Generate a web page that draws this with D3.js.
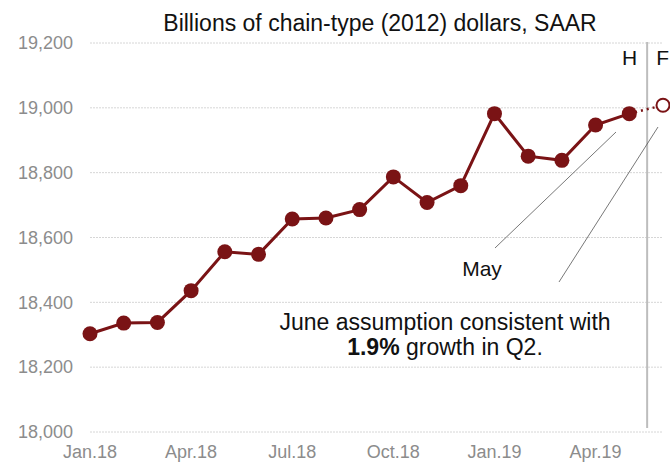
<!DOCTYPE html>
<html><head><meta charset="utf-8">
<script src="https://cdn.jsdelivr.net/npm/d3@7"></script>
<style>body{margin:0;background:#fff;}svg{display:block;font-family:Arial,"Liberation Sans",Helvetica,sans-serif;}</style>
</head><body>
<script>
const months = ["Jan.18","Feb.18","Mar.18","Apr.18","May.18","Jun.18","Jul.18","Aug.18","Sep.18","Oct.18","Nov.18","Dec.18","Jan.19","Feb.19","Mar.19","Apr.19","May.19","Jun.19"];
const history = [18303,18336,18338,18436,18556,18548,18657,18660,18686,18787,18708,18760,18982,18851,18838,18947,18982];
const forecast = [19008];
const tickLabels = ["Jan.18","Apr.18","Jul.18","Oct.18","Jan.19","Apr.19"];
const yTicks = [18000,18200,18400,18600,18800,19000,19200];
const title = "Billions of chain-type (2012) dollars, SAAR";

const W=670,H=464;
const svg=d3.select("body").append("svg").attr("width",W).attr("height",H);
const x=d3.scalePoint().domain(months).range([90,663]);
const y=d3.scaleLinear().domain([18000,19200]).range([432,43]);
const red="#7a1315";

// grid
svg.append("g").selectAll("line").data(yTicks).join("line")
 .attr("x1",90).attr("x2",662).attr("y1",d=>y(d)).attr("y2",d=>y(d))
 .attr("stroke","#d6d6d6").attr("stroke-width",1).attr("stroke-dasharray","2,1");
// y labels
const fmt=d3.format(",");
svg.append("g").selectAll("text").data(yTicks).join("text")
 .attr("x",73).attr("y",d=>y(d)).attr("dy","0.35em").attr("text-anchor","end")
 .attr("font-size",18).attr("fill","#8c8c8c").text(d=>fmt(d));
// x labels
svg.append("g").selectAll("text").data(tickLabels).join("text")
 .attr("x",d=>x(d)).attr("y",458).attr("text-anchor","middle")
 .attr("font-size",18).attr("fill","#8c8c8c").text(d=>d);
// title
svg.append("text").attr("x",380).attr("y",31).attr("text-anchor","middle")
 .attr("font-size",23).attr("fill","#111").text(title);
// H/F divider
const divX=(x("May.19")+x("Jun.19"))/2+1;
svg.append("line").attr("x1",divX).attr("x2",divX).attr("y1",42).attr("y2",428)
 .attr("stroke","#bdbdbd").attr("stroke-width",2);
svg.append("text").attr("x",divX-10).attr("y",65).attr("text-anchor","end").attr("font-size",21).attr("fill","#111").text("H");
svg.append("text").attr("x",divX+9).attr("y",65).attr("text-anchor","start").attr("font-size",21).attr("fill","#111").text("F");

// leader lines
const ann=svg.append("g").attr("stroke","#555").attr("stroke-width",0.8);
ann.append("line").attr("x1",495).attr("y1",248).attr("x2",616).attr("y2",132);
ann.append("line").attr("x1",559).attr("y1",282).attr("x2",658).attr("y2",127);
svg.append("text").attr("x",482).attr("y",276).attr("text-anchor","middle").attr("font-size",21).attr("fill","#111").text("May");
const t=svg.append("text").attr("x",445).attr("text-anchor","middle").attr("font-size",23).attr("fill","#111");
t.append("tspan").attr("x",445).attr("y",330).text("June assumption consistent with");
const l2=t.append("tspan").attr("x",445).attr("y",355);
l2.append("tspan").attr("font-weight","bold").text("1.9%");
l2.append("tspan").text(" growth in Q2.");

// line
const hd=history.map((v,i)=>[months[i],v]);
const line=d3.line().x(d=>x(d[0])).y(d=>y(d[1]));
svg.append("path").datum(hd).attr("d",line).attr("fill","none").attr("stroke",red).attr("stroke-width",3);
const fd=[hd[hd.length-1],[months[17],forecast[0]]];
svg.append("path").datum(fd).attr("d",line).attr("fill","none").attr("stroke",red).attr("stroke-width",2.5).attr("stroke-dasharray","2,4");
svg.append("g").selectAll("circle").data(hd).join("circle")
 .attr("cx",d=>x(d[0])).attr("cy",d=>y(d[1])).attr("r",7.5).attr("fill",red);
svg.append("circle").attr("cx",x(months[17])).attr("cy",y(forecast[0])).attr("r",6.5)
 .attr("fill","#fff").attr("stroke",red).attr("stroke-width",2);
</script>
</body></html>
